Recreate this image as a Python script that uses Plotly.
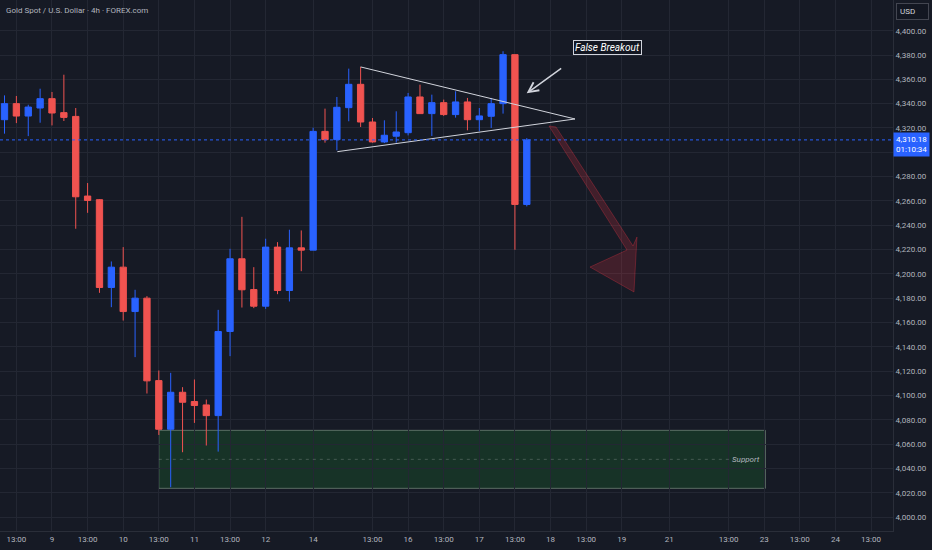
import plotly.graph_objects as go

# Bar positions (4h bars, weekend gaps removed)
bar_idx = list(range(-4, 41))

opens = [4326.8, 4340.0, 4329.8, 4336.4, 4344.1, 4332.6, 4329.5, 4264.0, 4261.0, 4188.8,
         4205.5, 4169.0, 4180.0, 4112.2, 4072.2, 4102.6, 4095.0, 4092.2, 4083.4, 4152.6,
         4212.4, 4187.1, 4173.4, 4222.0, 4186.3, 4221.4, 4219.5, 4317.2, 4310.4, 4336.7,
         4355.9, 4324.9, 4308.5, 4313.2, 4316.1, 4345.5, 4331.8, 4340.8, 4331.0, 4341.4,
         4326.8, 4329.6, 4340.0, 4380.3, 4257.1]
highs = [4346.8, 4346.3, 4339.1, 4352.3, 4349.6, 4363.8, 4336.4, 4274.7, 4261.5, 4210.2,
         4222.0, 4186.9, 4181.7, 4120.5, 4118.6, 4106.8, 4113.1, 4096.6, 4170.4, 4220.6,
         4246.9, 4205.5, 4228.9, 4226.1, 4236.3, 4235.7, 4320.2, 4335.9, 4345.5, 4368.8,
         4370.2, 4328.2, 4326.3, 4333.7, 4348.8, 4355.6, 4347.4, 4343.3, 4350.2, 4344.7,
         4336.4, 4344.7, 4383.1, 4380.3, 4311.7]
lows = [4315.3, 4324.0, 4313.3, 4324.3, 4322.1, 4325.7, 4237.1, 4250.2, 4184.4, 4172.6,
        4161.6, 4131.5, 4101.6, 4067.5, 4024.5, 4053.3, 4077.4, 4058.8, 4053.8, 4132.3,
        4172.3, 4171.8, 4171.2, 4183.3, 4177.3, 4202.2, 4219.5, 4307.9, 4301.6, 4325.5,
        4320.8, 4307.9, 4307.6, 4307.9, 4313.9, 4331.8, 4313.4, 4329.9, 4328.5, 4318.1,
        4317.5, 4320.0, 4331.8, 4219.8, 4255.5]
closes = [4340.0, 4329.8, 4337.2, 4344.1, 4332.3, 4328.7, 4263.4, 4260.4, 4188.8, 4205.5,
          4169.0, 4180.0, 4112.0, 4072.2, 4102.6, 4094.4, 4091.7, 4083.4, 4152.6, 4212.4,
          4186.9, 4173.4, 4222.0, 4186.3, 4221.4, 4219.5, 4317.2, 4310.4, 4337.0, 4355.9,
          4324.9, 4308.5, 4314.0, 4316.7, 4345.5, 4331.8, 4340.8, 4331.0, 4341.4, 4326.8,
          4329.9, 4340.0, 4380.3, 4257.1, 4310.18]

last_price = 4310.18
countdown = "01:10:34"

# x-axis labels
tick_idx = [-3, 0, 3, 6, 9, 12, 15, 18, 22, 27, 30, 33, 36, 39, 42, 45, 48, 52, 57, 60, 63, 66, 69]
tick_text = ["13:00", "9", "13:00", "10", "13:00", "11", "13:00", "12", "14", "13:00", "16",
             "13:00", "17", "13:00", "18", "13:00", "19", "21", "13:00", "23", "13:00", "24", "13:00"]
price_ticks = list(range(4000, 4401, 20))
# 4,300 sits behind the last-price badge
price_text = ["" if p == 4300 else f"{p:,.2f}" for p in price_ticks]

# drawings
tri_upper_x = [26, 44.06]
tri_upper_y = [4370.2, 4327.4]
tri_lower_x = [24.04, 44.06]
tri_lower_y = [4300.5, 4327.4]

arrow_x = [41.87, 42.46, 48.95, 49.28, 49.03, 45.32, 48.44, 41.87]
arrow_y = [4321.6, 4320.8, 4222.9, 4230.3, 4185.1, 4205.6, 4219.6, 4321.6]

support_x = [9, 60.1]
support_y = [4023.6, 4071.3]

BG = '#161a25'
GRID = '#232733'
TXT = '#b2b5be'
UP = '#2962ff'
DOWN = '#f05350'

fig = go.Figure()

fig.add_trace(go.Candlestick(
    x=bar_idx, open=opens, high=highs, low=lows, close=closes,
    increasing=dict(line=dict(color=UP, width=1), fillcolor=UP),
    decreasing=dict(line=dict(color=DOWN, width=1), fillcolor=DOWN),
    whiskerwidth=0, showlegend=False, hoverinfo='skip',
))

# triangle
for xs, ys in [(tri_upper_x, tri_upper_y), (tri_lower_x, tri_lower_y)]:
    fig.add_trace(go.Scatter(x=xs, y=ys, mode='lines', showlegend=False, hoverinfo='skip',
                             line=dict(color='#d1d4dc', width=1)))

# big down arrow
fig.add_trace(go.Scatter(x=arrow_x, y=arrow_y, mode='lines', fill='toself',
                         fillcolor='rgba(242,54,69,0.2)', showlegend=False, hoverinfo='skip',
                         line=dict(color='rgba(242,54,69,0.3)', width=1)))

# support zone
fig.add_shape(type='rect', x0=support_x[0], x1=support_x[1], y0=support_y[0], y1=support_y[1],
              fillcolor='rgba(26,100,44,0.35)', line=dict(color='rgba(120,140,125,0.7)', width=1),
              layer='below')
mid = (support_y[0] + support_y[1]) / 2
fig.add_shape(type='line', x0=support_x[0], x1=support_x[1] - 2.5, y0=mid, y1=mid,
              line=dict(color='rgba(140,150,145,0.4)', width=1, dash='3px,4px'))
fig.add_annotation(x=support_x[1] - 0.3, y=mid, text='<i>Support</i>', showarrow=False,
                   xanchor='right', font=dict(size=8, color=TXT))

# last price line
fig.add_shape(type='line', xref='paper', x0=0, x1=1, y0=last_price, y1=last_price,
              line=dict(color=UP, width=1, dash='dot'))

# false breakout label + arrow
fig.add_annotation(x=46.84, y=4385.8, text='<i>False Breakout</i>', showarrow=False,
                   font=dict(size=10, color='white'), bgcolor='#131722',
                   bordercolor='#d1d4dc', borderwidth=1, borderpad=1)
fig.add_annotation(x=39.99, y=4348.5, ax=36, ay=-26, text='', showarrow=True,
                   arrowhead=5, arrowsize=1.3, arrowwidth=1.5, arrowcolor='#d1d4dc',
                   standoff=0)

# title
fig.add_annotation(xref='paper', yref='paper', x=0.004, y=0.98, xanchor='left', yanchor='middle',
                   text='Gold Spot / U.S. Dollar · 4h · FOREX.com', showarrow=False,
                   font=dict(size=8, color=TXT))

# axis badges
fig.add_annotation(xref='paper', yref='paper', x=1.003, y=0.978, xanchor='left', yanchor='middle',
                   text='USD', showarrow=False, font=dict(size=8, color='#d1d4dc'), width=25,
                   align='left', bgcolor='#131722', bordercolor='#434651', borderwidth=1, borderpad=3)
fig.add_annotation(xref='paper', x=1.0, y=last_price, xanchor='left', yanchor='middle', yshift=-5,
                   text=f'{last_price:,.2f}<br>{countdown}', showarrow=False, align='center',
                   font=dict(size=8, color='white'), bgcolor=UP, borderpad=2)

fig.update_layout(
    width=932, height=550,
    margin=dict(l=0, r=39, t=0, b=19, autoexpand=False),
    paper_bgcolor=BG, plot_bgcolor=BG,
    font=dict(family='Roboto', size=8, color=TXT),
    boxgap=0.24,
    xaxis=dict(range=[-4.38, 70.85], tickvals=tick_idx, ticktext=tick_text,
               showgrid=True, gridcolor=GRID, zeroline=False, rangeslider=dict(visible=False),
               showline=True, linecolor='#2a2e39', ticks='', tickfont=dict(size=8, color=TXT)),
    yaxis=dict(range=[3988.5, 4425.25], side='right', tickvals=price_ticks, ticktext=price_text,
               showgrid=True, gridcolor=GRID, zeroline=False, showline=True, linecolor='#2a2e39',
               ticks='', tickfont=dict(size=8, color=TXT)),
)

fig.write_html("out.html", config={'displayModeBar': False},
               post_script="document.body.style.margin='0';")
